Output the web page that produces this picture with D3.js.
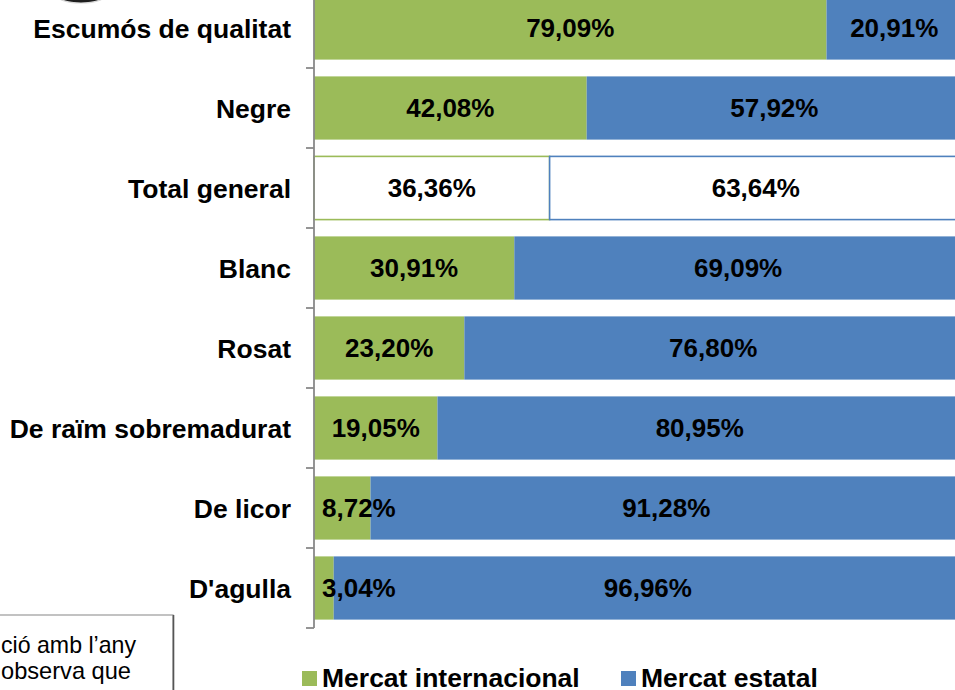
<!DOCTYPE html>
<html>
<head>
<meta charset="utf-8">
<script src="https://cdn.jsdelivr.net/npm/d3@7"></script>
<style>
  html, body { margin: 0; padding: 0; background: #fff; }
  svg { display: block; }
  text { font-family: Arial, "Liberation Sans", sans-serif; }
</style>
</head>
<body>
<svg id="chart" width="955" height="690"></svg>
<script>
// ---- data ----
const categories = ["Escumós de qualitat", "Negre", "Total general", "Blanc", "Rosat", "De raïm sobremadurat", "De licor", "D'agulla"];
const internacional = [79.09, 42.08, 36.36, 30.91, 23.20, 19.05, 8.72, 3.04];
const estatal = [20.91, 57.92, 63.64, 69.09, 76.80, 80.95, 91.28, 96.96];
const seriesNames = ["Mercat internacional", "Mercat estatal"];
const highlighted = "Total general";
const noteLines = ["ció amb l’any", "observa que"];

const colors = ["#9BBB59", "#4F81BD"];
const fmt = v => v.toFixed(2).replace(".", ",") + "%";

const svg = d3.select("#chart");

const x = d3.scaleLinear().domain([0, 100]).range([314, 962]);
const y = d3.scaleBand().domain(categories).range([-12, 628]).paddingInner(0.21).paddingOuter(0.105);

// decorative ellipse fragment (top-left)
svg.append("ellipse").attr("cx", 81).attr("cy", -7).attr("rx", 27).attr("ry", 10)
  .attr("fill", "#1e1e1e").attr("stroke", "#d8d8d8").attr("stroke-width", 1.2);

// stacked data
const rows = categories.map((c, i) => ({
  cat: c,
  segs: [
    { s: 0, x0: 0, x1: internacional[i], v: internacional[i] },
    { s: 1, x0: internacional[i], x1: internacional[i] + estatal[i], v: estatal[i] }
  ]
}));

const g = svg.append("g");
rows.forEach(r => {
  const hl = r.cat === highlighted;
  r.segs.forEach(sg => {
    const rect = g.append("rect")
      .attr("x", x(sg.x0))
      .attr("y", y(r.cat))
      .attr("width", x(sg.x1) - x(sg.x0))
      .attr("height", y.bandwidth());
    if (hl) {
      rect.attr("fill", "#fff").attr("stroke", colors[sg.s]).attr("stroke-width", 1.6);
    } else {
      rect.attr("fill", colors[sg.s]);
    }
  });
});

// value labels
rows.forEach(r => {
  r.segs.forEach(sg => {
    const cx = (x(sg.x0) + x(sg.x1)) / 2;
    const t = g.append("text")
      .attr("y", y(r.cat) + y.bandwidth() / 2)
      .attr("dy", "0.36em")
      .attr("text-anchor", "middle")
      .attr("font-size", 26)
      .attr("font-weight", "bold")
      .attr("fill", "#000")
      .text(fmt(sg.v));
    const w = t.node().getComputedTextLength();
    const minC = x(sg.x0) + 8 + w / 2;
    t.attr("x", Math.max(cx, minC));
  });
});

// axis
const axisG = svg.append("g");
axisG.append("line").attr("x1", 314).attr("x2", 314).attr("y1", y.range()[0]).attr("y2", y.range()[1])
  .attr("stroke", "#898989").attr("stroke-width", 1.8);
const step = y.step();
d3.range(categories.length + 1).forEach(i => {
  const yy = y.range()[0] + i * step;
  axisG.append("line").attr("x1", 306).attr("x2", 314).attr("y1", yy).attr("y2", yy)
    .attr("stroke", "#898989").attr("stroke-width", 1.8);
});
categories.forEach(c => {
  axisG.append("text")
    .attr("x", 291)
    .attr("y", y(c) + y.bandwidth() / 2)
    .attr("dy", "0.36em")
    .attr("text-anchor", "end")
    .attr("font-size", 26.5)
    .attr("font-weight", "bold")
    .attr("fill", "#000")
    .text(c);
});

// legend
const legendX = [302, 621];
seriesNames.forEach((n, i) => {
  svg.append("rect").attr("x", legendX[i]).attr("y", 671).attr("width", 15).attr("height", 15).attr("fill", colors[i]);
  svg.append("text").attr("x", legendX[i] + 20).attr("y", 687)
    .attr("font-size", 26.5).attr("font-weight", "bold").attr("fill", "#000").text(n);
});

// partial note box (bottom-left)
svg.append("rect").attr("x", -3).attr("y", 615).attr("width", 176).attr("height", 90)
  .attr("fill", "#fff").attr("stroke", "#9a9a9a").attr("stroke-width", 1.2);
svg.append("line").attr("x1", 173.5).attr("x2", 173.5).attr("y1", 615).attr("y2", 690)
  .attr("stroke", "#555").attr("stroke-width", 1.6);
const noteWidths = [135, 130];
noteLines.forEach((l, i) => {
  svg.append("text").attr("x", 1).attr("y", 653 + i * 26)
    .attr("font-size", 24).attr("fill", "#000")
    .attr("textLength", noteWidths[i]).attr("lengthAdjust", "spacingAndGlyphs")
    .text(l);
});
</script>
</body>
</html>
